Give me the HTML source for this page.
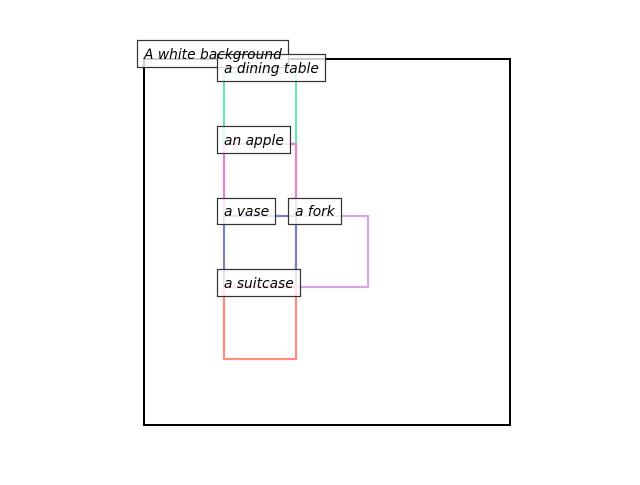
<!DOCTYPE html>
<html><head><style>body{margin:0;background:#fff}</style></head><body>
<svg width="640" height="480" xmlns="http://www.w3.org/2000/svg" font-family="DejaVu Sans, sans-serif" font-style="italic" font-size="13.8">
<rect x="144" y="59" width="366" height="366" fill="none" stroke="#000" stroke-width="2"/>
<rect x="224" y="73" width="72" height="71" fill="none" stroke="#66e8b4" stroke-width="2.2"/>
<rect x="224" y="144" width="72" height="72" fill="none" stroke="#e484cc" stroke-width="2.2"/>
<rect x="296" y="216" width="72" height="71" fill="none" stroke="#d4a8e4" stroke-width="2.2"/>
<rect x="224" y="216" width="72" height="71" fill="none" stroke="#7a84b8" stroke-width="2.2"/>
<rect x="224" y="287" width="72" height="72" fill="none" stroke="#ff8c80" stroke-width="2.2"/>
<g stroke="#333" stroke-width="1.2" fill="#fff" fill-opacity="0.8">
<rect x="137.5" y="40.5" width="151" height="27"/>
<rect x="217.5" y="54.5" width="108" height="27"/>
<rect x="217.5" y="126.5" width="73" height="27"/>
<rect x="217.5" y="198.5" width="58" height="26"/>
<rect x="288.5" y="198.5" width="53" height="26"/>
<rect x="217.5" y="269.5" width="83" height="27"/>
</g>
<g fill="#000">
<text x="144" y="59">A white background</text>
<text x="224" y="73">a dining table</text>
<text x="224" y="145">an apple</text>
<text x="224" y="216">a vase</text>
<text x="295" y="216">a fork</text>
<text x="224" y="288">a suitcase</text>
</g>
</svg>
</body></html>
